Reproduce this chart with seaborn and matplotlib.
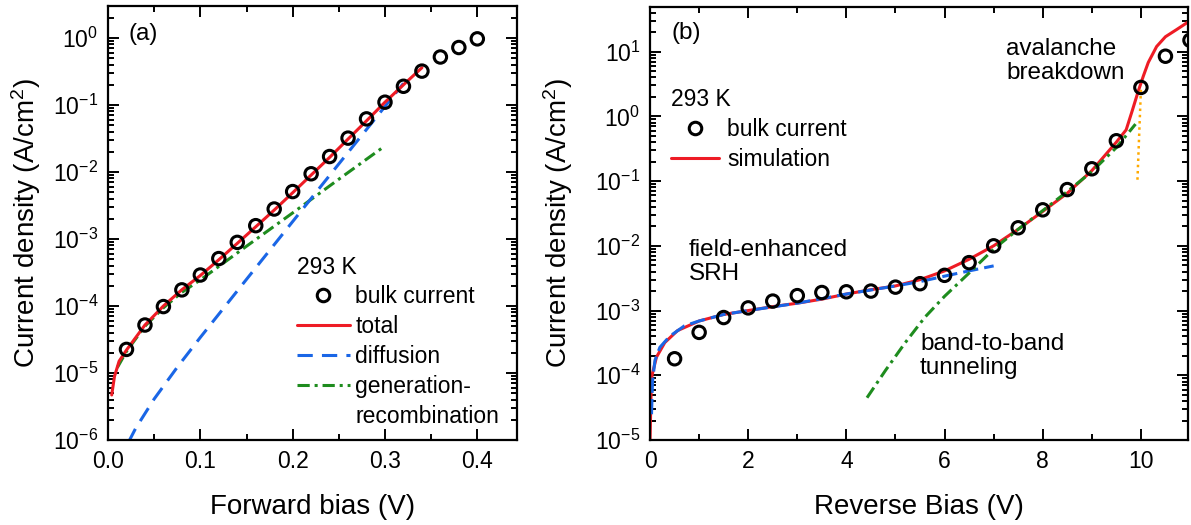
import numpy as np
import matplotlib
matplotlib.use("Agg")
import matplotlib.pyplot as plt
import matplotlib.ticker as mticker
from matplotlib.lines import Line2D
import seaborn as sns

# ── (a) forward bias ─────────────────────────────────────────────────────────
fwd_bulk_v = [0.02, 0.04, 0.06, 0.08, 0.10, 0.12, 0.14, 0.16, 0.18, 0.20,
              0.22, 0.24, 0.26, 0.28, 0.30, 0.32, 0.34, 0.36, 0.38, 0.40]
fwd_bulk_j = [2.25e-5, 5.2e-5, 9.8e-5, 1.74e-4, 2.9e-4, 5.1e-4, 8.9e-4, 1.58e-3, 2.8e-3, 5.1e-3,
              9.4e-3, 1.7e-2, 3.2e-2, 6.2e-2, 0.11, 0.19, 0.32, 0.52, 0.72, 0.97]

fwd_total_v = [0.004, 0.007, 0.012, 0.02, 0.04, 0.06, 0.08, 0.10, 0.12, 0.14, 0.16,
               0.18, 0.20, 0.22, 0.24, 0.26, 0.28, 0.30, 0.32, 0.34]
fwd_total_j = [4.7e-6, 8.9e-6, 1.5e-5, 2.2e-5, 5.2e-5, 1.0e-4, 1.75e-4, 2.85e-4, 4.9e-4, 8.6e-4, 1.52e-3,
               2.7e-3, 4.9e-3, 9.0e-3, 1.65e-2, 3.1e-2, 5.8e-2, 0.11, 0.2, 0.36]

fwd_diff_v = [0.022, 0.03, 0.05, 0.075, 0.10, 0.15, 0.20, 0.25, 0.30, 0.32]
fwd_diff_j = [9.2e-7, 1.5e-6, 4.1e-6, 1.22e-5, 3.4e-5, 2.5e-4, 1.82e-3, 1.32e-2, 9.5e-2, 0.21]

fwd_gr_v = [0.01, 0.02, 0.04, 0.06, 0.08, 0.10, 0.15, 0.20, 0.25, 0.30]
fwd_gr_j = [1.2e-5, 2.1e-5, 5.0e-5, 9.4e-5, 1.6e-4, 2.45e-4, 7.8e-4, 2.45e-3, 7.8e-3, 2.45e-2]

# ── (b) reverse bias ─────────────────────────────────────────────────────────
rev_bulk_v = [0.5, 1.0, 1.5, 2.0, 2.5, 3.0, 3.5, 4.0, 4.5, 5.0, 5.5,
              6.0, 6.5, 7.0, 7.5, 8.0, 8.5, 9.0, 9.5, 10.0, 10.5, 11.0]
rev_bulk_j = [1.8e-4, 4.6e-4, 7.8e-4, 1.1e-3, 1.4e-3, 1.7e-3, 1.9e-3, 1.95e-3, 2.0e-3, 2.3e-3, 2.6e-3,
              3.5e-3, 5.5e-3, 1.0e-2, 1.9e-2, 3.6e-2, 7.4e-2, 0.155, 0.42, 2.8, 8.5, 15.0]

rev_sim_v = [0.0, 0.02, 0.04, 0.13, 0.3, 0.56, 1.0, 1.5, 2.0, 2.5, 3.0, 3.5, 4.0, 4.5, 5.0,
             5.5, 6.0, 6.5, 7.0, 7.5, 8.0, 8.5, 9.0, 9.5, 9.7, 9.82, 9.95, 10.05, 10.15,
             10.32, 10.5, 10.73, 11.0]
rev_sim_j = [1.0e-5, 5.0e-5, 1.0e-4, 1.9e-4, 3.2e-4, 4.9e-4, 6.9e-4, 8.7e-4, 1.0e-3, 1.15e-3, 1.3e-3,
             1.5e-3, 1.8e-3, 2.1e-3, 2.4e-3, 3.0e-3, 4.1e-3, 6.2e-3, 1.0e-2, 1.8e-2, 3.4e-2, 6.5e-2,
             0.145, 0.4, 0.62, 1.2, 2.5, 4.2, 6.8, 12.0, 17.0, 22.0, 30.0]

rev_srh_v = [0.03, 0.05, 0.1, 0.2, 0.4, 0.7, 1.0, 1.5, 2.0, 3.0, 4.0, 5.0, 5.5, 6.0, 6.5, 7.0]
rev_srh_j = [2.5e-5, 8.0e-5, 1.7e-4, 2.7e-4, 4.0e-4, 5.8e-4, 6.9e-4, 8.7e-4, 1.0e-3, 1.3e-3, 1.8e-3,
             2.4e-3, 2.8e-3, 3.4e-3, 4.1e-3, 4.9e-3]

rev_btbt_v = [4.42, 4.8, 5.2, 5.6, 6.0, 6.5, 7.0, 7.5, 8.0, 8.5, 9.0, 9.5, 9.89]
rev_btbt_j = [4.5e-5, 1.2e-4, 3.2e-4, 7.9e-4, 1.66e-3, 3.8e-3, 8.9e-3, 1.8e-2, 3.5e-2, 6.9e-2,
              0.14, 0.33, 0.76]

rev_aval_v = [9.93, 10.0]
rev_aval_j = [0.105, 2.6]

# ── style ────────────────────────────────────────────────────────────────────
RED = "#ee1c25"
BLUE = "#1a66e6"
GREEN = "#1e8c1e"
ORANGE = "#ffaa00"

sns.set_style("ticks", {"axes.edgecolor": "black", "xtick.color": "black",
                        "ytick.color": "black", "text.color": "black",
                        "axes.labelcolor": "black"})
plt.rcParams["font.family"] = ["Liberation Sans", "DejaVu Sans"]
plt.rcParams["mathtext.fontset"] = "custom"
plt.rcParams["mathtext.rm"] = "Liberation Sans"
plt.rcParams["mathtext.it"] = "Liberation Sans:italic"
plt.rcParams["mathtext.bf"] = "Liberation Sans:bold"
plt.rcParams["mathtext.default"] = "regular"

FS = 16.5      # legend text
FS_NOTE = 17.5  # annotations
FS_TICK = 16.5
FS_LABEL = 20


def style_axes(ax, ypad):
    ax.set_yscale("log")
    ax.yaxis.set_major_locator(mticker.LogLocator(base=10, numticks=20))
    ax.yaxis.set_minor_locator(mticker.LogLocator(base=10, subs=np.arange(2, 10), numticks=20))
    ax.yaxis.set_major_formatter(mticker.LogFormatterMathtext())
    ax.yaxis.set_minor_formatter(mticker.NullFormatter())
    ax.tick_params(which="both", direction="in", top=True, right=True,
                   labelsize=FS_TICK, width=1.4, colors="black")
    ax.tick_params(which="major", length=8, pad=7)
    ax.tick_params(which="minor", length=4.5)
    for s in ax.spines.values():
        s.set_linewidth(1.6)
        s.set_color("black")
    ax.set_ylabel("Current density (A/cm$^2$)", fontsize=FS_LABEL, labelpad=ypad)


def bulk_points(ax, x, y):
    sns.scatterplot(x=x, y=y, ax=ax, marker="o", s=80, facecolors="none",
                    edgecolor="black", linewidth=2.2, zorder=5, legend=False)


fig = plt.figure(figsize=(11.91, 5.25), dpi=100)
ax1 = fig.add_axes([0.0907, 0.1619, 0.3434, 0.8267])
ax2 = fig.add_axes([0.5458, 0.1619, 0.4517, 0.8248])

# ── panel (a) ────────────────────────────────────────────────────────────────
sns.lineplot(x=fwd_gr_v, y=fwd_gr_j, ax=ax1, color=GREEN, linewidth=2.2,
             linestyle=(0, (4, 1.6, 1, 1.6)), legend=False)
sns.lineplot(x=fwd_diff_v, y=fwd_diff_j, ax=ax1, color=BLUE, linewidth=2.2,
             linestyle=(0, (5, 3)), legend=False)
sns.lineplot(x=fwd_total_v, y=fwd_total_j, ax=ax1, color=RED, linewidth=2.2, legend=False)
bulk_points(ax1, fwd_bulk_v, fwd_bulk_j)

style_axes(ax1, 7)
ax1.set_xlim(0, 0.443)
ax1.set_ylim(1e-6, 3)
ax1.xaxis.set_major_locator(mticker.MultipleLocator(0.1))
ax1.xaxis.set_minor_locator(mticker.MultipleLocator(0.05))
ax1.xaxis.set_major_formatter(mticker.FormatStrFormatter("%.1f"))
ax1.set_xlabel("Forward bias (V)", fontsize=FS_LABEL, labelpad=15)
ax1.text(0.05, 0.935, "(a)", transform=ax1.transAxes, fontsize=FS_NOTE, va="center")

h_bulk = Line2D([], [], marker="o", linestyle="", markerfacecolor="none",
                markeredgecolor="black", markeredgewidth=2.2, markersize=9)
h_total = Line2D([], [], color=RED, linewidth=2.2)
h_diff = Line2D([], [], color=BLUE, linewidth=2.2, linestyle=(0, (5, 3)))
h_gr = Line2D([], [], color=GREEN, linewidth=2.2, linestyle=(0, (4, 1.6, 1, 1.6)))
h_blank = Line2D([], [], color="none")
ax1.legend([h_bulk, h_total, h_diff, h_gr, h_blank],
           ["bulk current", "total", "diffusion", "generation-", "recombination"],
           title="293 K", loc="upper left", bbox_to_anchor=(0.462, 0.425),
           frameon=False, fontsize=FS, title_fontsize=FS, handlelength=2.3,
           handletextpad=0.25, labelspacing=0.3, borderpad=0, borderaxespad=0,
           alignment="left")

# ── panel (b) ────────────────────────────────────────────────────────────────
sns.lineplot(x=rev_sim_v, y=rev_sim_j, ax=ax2, color=RED, linewidth=2.2, legend=False)
sns.lineplot(x=rev_srh_v, y=rev_srh_j, ax=ax2, color=BLUE, linewidth=2.2,
             linestyle=(0, (5, 2)), legend=False)
sns.lineplot(x=rev_btbt_v, y=rev_btbt_j, ax=ax2, color=GREEN, linewidth=2.2,
             linestyle=(0, (4, 1.6, 1, 1.6)), legend=False)
sns.lineplot(x=rev_aval_v, y=rev_aval_j, ax=ax2, color=ORANGE, linewidth=1.8,
             linestyle=(0, (1, 1.5)), legend=False, sort=False)
bulk_points(ax2, rev_bulk_v, rev_bulk_j)

style_axes(ax2, 14)
ax2.set_xlim(0, 10.96)
ax2.set_ylim(1e-5, 49)
ax2.xaxis.set_major_locator(mticker.MultipleLocator(2))
ax2.xaxis.set_minor_locator(mticker.MultipleLocator(1))
ax2.set_xlabel("Reverse Bias (V)", fontsize=FS_LABEL, labelpad=15)
ax2.text(0.039, 0.94, "(b)", transform=ax2.transAxes, fontsize=FS_NOTE, va="center")
ax2.text(0.662, 0.875, "avalanche\nbreakdown", transform=ax2.transAxes,
         fontsize=FS_NOTE, va="center", linespacing=1.15)
ax2.text(0.072, 0.411, "field-enhanced\nSRH", transform=ax2.transAxes,
         fontsize=FS_NOTE, va="center", linespacing=1.15)
ax2.text(0.502, 0.194, "band-to-band\ntunneling", transform=ax2.transAxes,
         fontsize=FS_NOTE, va="center", linespacing=1.15)

h_sim = Line2D([], [], color=RED, linewidth=2.2)
ax2.legend([h_bulk, h_sim], ["bulk current", "simulation"],
           title="293 K", loc="upper left", bbox_to_anchor=(0.039, 0.812),
           frameon=False, fontsize=FS, title_fontsize=FS, handlelength=2.1,
           handletextpad=0.36, labelspacing=0.3, borderpad=0, borderaxespad=0,
           alignment="left")

fig.savefig("out.png", dpi=100)
